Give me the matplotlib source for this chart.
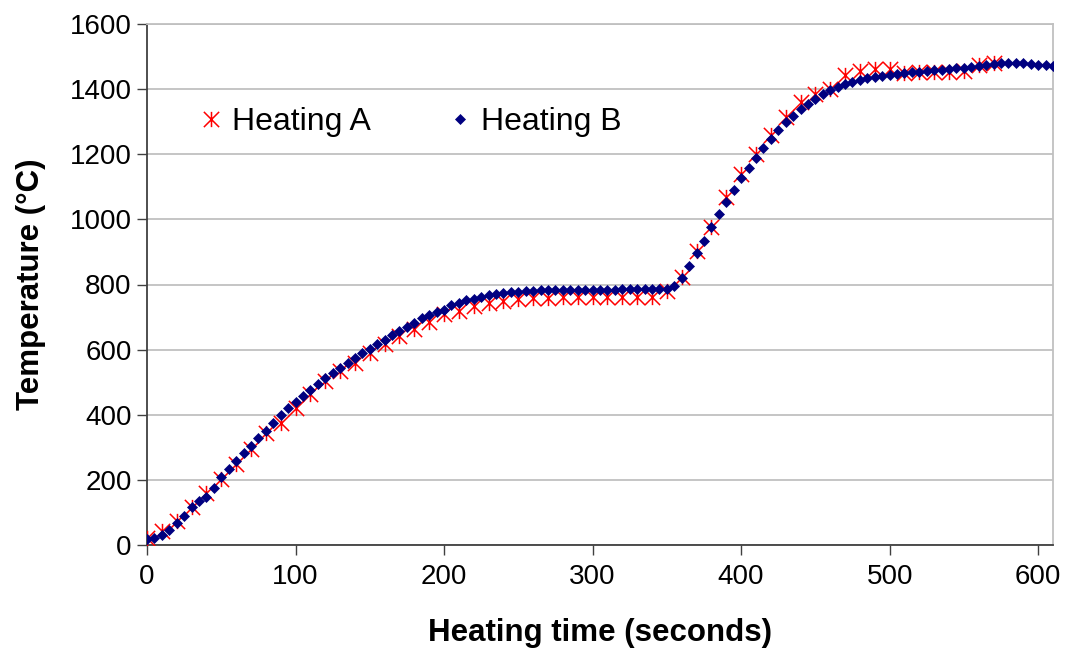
#!/usr/bin/env python3
"""Heating curves: temperature vs heating time for two runs (A, B)."""

import matplotlib
matplotlib.use("Agg")
import matplotlib.pyplot as plt
from matplotlib.path import Path

# ---------------------------------------------------------------------------
# Data
# ---------------------------------------------------------------------------
time_a = list(range(0, 571, 10))
temp_a = [
    22, 43, 74, 117, 159, 202, 248, 294, 344, 376,
    422, 463, 504, 534, 560, 591, 616, 642, 662, 686,
    708, 718, 733, 744, 749, 755, 758, 760, 761, 761,
    761, 761, 761, 761, 762,
    780, 822, 902, 976, 1068, 1140, 1201, 1258, 1314, 1360,
    1385, 1401, 1442, 1455, 1463, 1463, 1448, 1453, 1453, 1453,
    1455, 1475, 1480,
]

time_b = list(range(0, 611, 5))
temp_b = [
    19, 22, 30, 47, 67, 90, 118, 135, 148, 176,
    208, 233, 258, 283, 303, 328, 350, 375, 398, 421,
    440, 459, 477, 495, 514, 528, 545, 559, 575, 590,
    602, 616, 631, 645, 657, 671, 683, 696, 706, 717,
    723, 737, 744, 751, 757, 762, 767, 771, 774, 776,
    778, 780, 781, 782, 783, 783, 783, 783, 783, 784,
    784, 784, 784, 784, 785, 785, 785, 786, 786, 787,
    787, 795, 820, 856, 896, 933, 978, 1015, 1053, 1091,
    1128, 1159, 1189, 1219, 1246, 1273, 1299, 1319, 1340, 1355,
    1370, 1384, 1396, 1408, 1415, 1422, 1428,
    1433, 1437, 1441, 1444, 1447, 1450, 1452, 1454, 1456, 1458,
    1460, 1462, 1464, 1466, 1468, 1471, 1475, 1478, 1480, 1481,
    1481, 1479, 1477, 1475, 1474, 1472,
]

x_ticks = [0, 100, 200, 300, 400, 500, 600]
y_ticks = [0, 200, 400, 600, 800, 1000, 1200, 1400, 1600]

# ---------------------------------------------------------------------------
# Style
# ---------------------------------------------------------------------------
RED = "#FF0000"
NAVY = "#000080"
GRID = "#C0C0C0"
AXIS = "#404040"

plt.rcParams.update({
    "font.family": ["Liberation Sans", "DejaVu Sans"],
    "axes.unicode_minus": False,
})

# Excel-style "star" marker: an X plus a vertical bar
STAR = Path(
    [(-1, -1), (1, 1), (-1, 1), (1, -1), (0, -1), (0, 1)],
    [Path.MOVETO, Path.LINETO, Path.MOVETO, Path.LINETO, Path.MOVETO, Path.LINETO],
)

fig = plt.figure(figsize=(10.7, 6.54), dpi=100, facecolor="white")
ax = fig.add_axes([147 / 1070, 1 - 545 / 654, (1053 - 147) / 1070, (545 - 24) / 654])

ax.plot(time_a, temp_a, linestyle="none", marker=STAR, markersize=11,
        markeredgecolor=RED, markerfacecolor="none", markeredgewidth=1.1,
        label="Heating A", zorder=3)
ax.plot(time_b, temp_b, linestyle="none", marker="D", markersize=4.8,
        markerfacecolor=NAVY, markeredgecolor=NAVY, markeredgewidth=0.5,
        label="Heating B", zorder=4)

ax.set_xlim(0, 610)
ax.set_ylim(0, 1600)
ax.set_xticks(x_ticks)
ax.set_yticks(y_ticks)
ax.tick_params(axis="both", labelsize=20, direction="out", length=7,
               width=1.0, color=AXIS, labelcolor="black")
ax.tick_params(axis="y", pad=4)
ax.tick_params(axis="x", pad=7)
ax.yaxis.grid(True, color=GRID, linewidth=1.3, zorder=0)
ax.set_axisbelow(True)

for side in ("left", "bottom"):
    ax.spines[side].set_color(AXIS)
    ax.spines[side].set_linewidth(1.3)
for side in ("top", "right"):
    ax.spines[side].set_color(GRID)
    ax.spines[side].set_linewidth(1.3)

ax.set_xlabel("Heating time (seconds)", fontsize=22.5, fontweight="bold", labelpad=20)
ax.set_ylabel("Temperature (°C)", fontsize=22.5, fontweight="bold", labelpad=17)

ax.legend(loc="center left", bbox_to_anchor=(0.053, 0.812), ncol=2, frameon=False,
          fontsize=23, handlelength=1.0, handletextpad=0.15, columnspacing=2.3,
          borderpad=0, borderaxespad=0, markerscale=1.0)

fig.savefig("out.png", dpi=100, facecolor="white")
